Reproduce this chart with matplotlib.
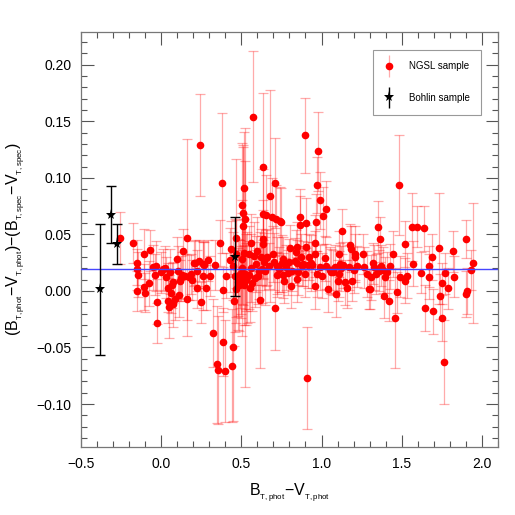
import matplotlib
matplotlib.use("Agg")
import matplotlib.pyplot as plt
from matplotlib.ticker import MultipleLocator
from matplotlib.legend_handler import HandlerErrorbar

plt.rcParams["font.family"] = ["Liberation Sans", "DejaVu Sans"]
plt.rcParams["mathtext.fontset"] = "custom"
plt.rcParams["mathtext.rm"] = "Liberation Sans"
plt.rcParams["mathtext.it"] = "Liberation Sans"

# NGSL sample: colour, colour difference, error
ngsl_x = [-0.259, -0.172, -0.149, -0.153, -0.145, -0.147, -0.106, -0.106, -0.101, -0.068,
          -0.075, -0.048, -0.031, -0.039, -0.025, -0.025, 0.000, 0.025, 0.031, 0.041,
          0.043, 0.052, 0.058, 0.064, 0.072, 0.077, 0.087, 0.099, 0.108, 0.114,
          0.118, 0.130, 0.139, 0.147, 0.161, 0.161, 0.176, 0.193, 0.207, 0.222,
          0.222, 0.238, 0.242, 0.248, 0.259, 0.263, 0.280, 0.290, 0.304, 0.323,
          0.337, 0.346, 0.356, 0.369, 0.379, 0.387, 0.389, 0.398, 0.404, 0.431,
          0.435, 0.445, 0.449, 0.451, 0.455, 0.466, 0.462, 0.470, 0.482, 0.497,
          0.507, 0.507, 0.513, 0.518, 0.513, 0.524, 0.503, 0.516, 0.524, 0.538,
          0.549, 0.559, 0.557, 0.573, 0.569, 0.580, 0.586, 0.600, 0.607, 0.617,
          0.625, 0.629, 0.638, 0.638, 0.638, 0.638, 0.644, 0.646, 0.652, 0.663,
          0.681, 0.689, 0.698, 0.710, 0.712, 0.714, 0.722, 0.725, 0.739, 0.747,
          0.754, 0.762, 0.768, 0.780, 0.797, 0.801, 0.807, 0.818, 0.832, 0.839,
          0.845, 0.845, 0.855, 0.865, 0.865, 0.870, 0.884, 0.894, 0.894, 0.901,
          0.905, 0.911, 0.917, 0.932, 0.942, 0.957, 0.959, 0.959, 0.963, 0.969,
          0.973, 0.979, 0.990, 1.000, 1.008, 1.021, 1.025, 1.031, 1.041, 1.050,
          1.070, 1.087, 1.093, 1.101, 1.108, 1.112, 1.118, 1.130, 1.135, 1.149,
          1.159, 1.170, 1.176, 1.186, 1.190, 1.201, 1.207, 1.211, 1.222, 1.257,
          1.263, 1.284, 1.294, 1.304, 1.311, 1.319, 1.329, 1.340, 1.350, 1.356,
          1.366, 1.373, 1.381, 1.387, 1.398, 1.408, 1.418, 1.429, 1.445, 1.455,
          1.470, 1.480, 1.487, 1.518, 1.522, 1.532, 1.563, 1.569, 1.592, 1.621,
          1.636, 1.642, 1.667, 1.673, 1.691, 1.697, 1.735, 1.739, 1.749, 1.749,
          1.762, 1.770, 1.787, 1.822, 1.824, 1.901, 1.901, 1.909, 1.932, 1.946,
          0.478, 0.492, 0.515, 0.531, 0.545, 0.562, 0.590, 0.612, 0.652, 0.675,
          0.705, 0.735, 0.760, 0.790, 0.850, 0.880, 0.920, 0.990, 1.060, 1.120,
          0.015, 0.070, 0.125, 0.185, 0.210, 0.270, 0.470, 0.485, 0.500, 0.530]
ngsl_y = [0.0470, 0.0424, 0.0250, 0.0190, 0.0145, 0.0000, 0.0035, 0.0324, -0.0015, 0.0360,
          0.0068, 0.0210, 0.0218, 0.0144, -0.0094, -0.0283, 0.0165, 0.0200, 0.0120, 0.0030,
          -0.0085, -0.0138, 0.0170, -0.0015, -0.0115, 0.0077, -0.0074, 0.0280, 0.0180, -0.0032,
          0.0090, 0.0140, 0.0350, 0.0130, 0.0470, -0.0074, 0.0120, 0.0097, 0.0245, 0.0180,
          0.0027, 0.0268, 0.1290, -0.0100, 0.0240, 0.0133, 0.0030, 0.0270, 0.0133, -0.0374,
          0.0230, -0.0650, -0.0700, 0.0424, 0.0955, -0.0450, 0.0012, -0.0710, 0.0136, 0.0274,
          0.0370, -0.0660, -0.0500, 0.0218, -0.0085, 0.0470, 0.0136, 0.0018, 0.0056, 0.0100,
          0.0760, 0.0286, 0.0687, 0.0907, 0.0577, 0.0640, 0.0200, 0.0336, 0.0150, 0.0120,
          0.0327, 0.0427, 0.0027, 0.1540, 0.0074, 0.0310, 0.0110, 0.0350, 0.0133, -0.0080,
          0.0300, 0.0190, 0.1100, 0.0680, 0.0457, 0.0415, 0.0260, 0.0174, 0.0675, 0.0300,
          0.0840, 0.0650, 0.0327, 0.0955, -0.0153, 0.0636, 0.0224, 0.0144, 0.0620, 0.0607,
          0.0245, 0.0138, 0.0091, 0.0210, 0.0260, 0.0380, 0.0047, 0.0180, 0.0268, 0.0340,
          0.0386, 0.0103, 0.0165, 0.0650, 0.0586, 0.0300, 0.0240, 0.1376, 0.0150, 0.0386,
          0.0600, -0.0770, 0.0230, 0.0247, 0.0230, 0.0040, 0.0327, 0.0420, 0.0607, 0.0937,
          0.0150, 0.1235, 0.0800, 0.0136, 0.0666, 0.0290, 0.0218, 0.0725, 0.0018, 0.0186,
          0.0165, 0.0210, -0.0027, 0.0091, 0.0150, 0.0327, 0.0240, 0.0527, 0.0230, 0.0077,
          0.0027, 0.0210, 0.0410, 0.0370, 0.0091, 0.0186, 0.0327, 0.0300, 0.0218, 0.0327,
          0.0210, 0.0150, 0.0018, 0.0018, 0.0120, 0.0245, 0.0210, 0.0150, 0.0569, 0.0180,
          0.0457, 0.0224, 0.0186, -0.0041, 0.0120, 0.0165, -0.0085, 0.0218, 0.0327, -0.0240,
          -0.0012, 0.0937, 0.0127, 0.0091, 0.0415, 0.0136, 0.0569, 0.0240, 0.0569, 0.0160,
          0.0554, -0.0150, 0.0218, 0.0127, 0.0300, -0.0180, 0.0377, -0.0047, 0.0068, -0.0240,
          -0.0630, 0.0156, 0.0024, 0.0350, 0.0127, 0.0457, -0.0027, 0.0000, 0.0186, 0.0245,
          0.0080, 0.0150, 0.0050, 0.0100, 0.0140, 0.0200, 0.0240, 0.0180, 0.0290, 0.0220,
          0.0260, 0.0190, 0.0280, 0.0160, 0.0250, 0.0220, 0.0300, 0.0210, 0.0170, 0.0200,
          0.0190, 0.0050, 0.0110, 0.0150, 0.0250, 0.0230, 0.0330, 0.0050, 0.0060, 0.0120]
ngsl_err = [0.023, 0.018, 0.020, 0.018, 0.020, 0.018, 0.020, 0.022, 0.017, 0.018,
            0.020, 0.020, 0.022, 0.018, 0.020, 0.018, 0.018, 0.020, 0.018, 0.022,
            0.020, 0.028, 0.020, 0.018, 0.020, 0.018, 0.018, 0.020, 0.022, 0.020,
            0.018, 0.020, 0.020, 0.020, 0.087, 0.018, 0.020, 0.018, 0.020, 0.018,
            0.018, 0.018, 0.045, 0.018, 0.020, 0.030, 0.020, 0.018, 0.018, 0.030,
            0.022, 0.052, 0.048, 0.020, 0.062, 0.030, 0.020, 0.045, 0.020, 0.028,
            0.025, 0.050, 0.065, 0.030, 0.040, 0.070, 0.050, 0.030, 0.040, 0.030,
            0.055, 0.040, 0.060, 0.050, 0.070, 0.080, 0.060, 0.030, 0.100, 0.040,
            0.025, 0.025, 0.030, 0.058, 0.025, 0.030, 0.025, 0.030, 0.025, 0.060,
            0.025, 0.030, 0.065, 0.040, 0.035, 0.030, 0.025, 0.030, 0.035, 0.025,
            0.094, 0.035, 0.025, 0.040, 0.037, 0.030, 0.025, 0.020, 0.030, 0.030,
            0.025, 0.020, 0.020, 0.020, 0.020, 0.020, 0.020, 0.018, 0.020, 0.020,
            0.022, 0.020, 0.020, 0.025, 0.025, 0.020, 0.020, 0.033, 0.020, 0.020,
            0.022, 0.045, 0.020, 0.025, 0.020, 0.020, 0.020, 0.025, 0.025, 0.025,
            0.020, 0.035, 0.025, 0.020, 0.025, 0.020, 0.020, 0.025, 0.020, 0.020,
            0.020, 0.020, 0.020, 0.018, 0.020, 0.020, 0.018, 0.020, 0.020, 0.020,
            0.018, 0.020, 0.018, 0.020, 0.018, 0.020, 0.025, 0.020, 0.018, 0.018,
            0.018, 0.020, 0.018, 0.018, 0.020, 0.018, 0.020, 0.018, 0.023, 0.018,
            0.020, 0.018, 0.020, 0.020, 0.018, 0.018, 0.018, 0.020, 0.020, 0.044,
            0.018, 0.044, 0.018, 0.020, 0.020, 0.020, 0.030, 0.020, 0.018, 0.018,
            0.020, 0.020, 0.018, 0.020, 0.020, 0.020, 0.049, 0.020, 0.018, 0.020,
            0.037, 0.018, 0.018, 0.018, 0.018, 0.017, 0.020, 0.020, 0.018, 0.053,
            0.030, 0.030, 0.035, 0.040, 0.030, 0.030, 0.025, 0.025, 0.025, 0.020,
            0.025, 0.020, 0.020, 0.020, 0.020, 0.018, 0.020, 0.020, 0.020, 0.020,
            0.018, 0.020, 0.020, 0.018, 0.020, 0.020, 0.030, 0.040, 0.030, 0.030]

# Bohlin sample
bohlin_x = [-0.383, -0.313, -0.273, 0.462]
bohlin_y = [0.0015, 0.0675, 0.0415, 0.0303]
bohlin_err = [0.058, 0.025, 0.0175, 0.035]

mean_offset = 0.0197

pink = (1, 0, 0, 0.33)

fig = plt.figure(figsize=(5.15, 5.15), dpi=100)
ax = fig.add_axes([0.157, 0.132, 0.81, 0.806])

ax.errorbar(ngsl_x, ngsl_y, yerr=ngsl_err, fmt="none", ecolor=pink,
            elinewidth=0.9, capsize=3.5, capthick=0.9, zorder=2)
ax.plot(ngsl_x, ngsl_y, "o", color="red", markersize=5.5, markeredgewidth=0, zorder=3)
ax.axhline(mean_offset, color="#4646ff", linewidth=1.0, zorder=4)
ax.errorbar(bohlin_x, bohlin_y, yerr=bohlin_err, fmt="none", ecolor="black",
            elinewidth=1.0, capsize=3.5, capthick=1.0, zorder=5)
ax.plot(bohlin_x, bohlin_y, "*", color="black", markersize=8, markeredgewidth=0, zorder=6)

# proxy handles for the legend (placed outside the visible range)
h1 = ax.errorbar([-9], [0], yerr=[0.01], fmt="o", color="red", ecolor=pink,
                 markersize=5.5, markeredgewidth=0, elinewidth=0.9, capsize=3, capthick=0.9)
h2 = ax.errorbar([-9], [0], yerr=[0.01], fmt="*", color="black", markersize=8,
                 markeredgewidth=0, elinewidth=1.0, capsize=3, capthick=1.0)
leg = ax.legend([h1, h2], ["NGSL sample", "Bohlin sample"], loc="upper left",
                bbox_to_anchor=(0.700, 0.957), borderaxespad=0, fontsize=7,
                fancybox=False, edgecolor="#999999", framealpha=1,
                borderpad=1.2, labelspacing=2.2, handlelength=1.0, handletextpad=1.5,
                handler_map={type(h1): HandlerErrorbar(xerr_size=0.5, yerr_size=1.1)})
leg.get_frame().set_linewidth(0.8)

ax.set_xlim(-0.5, 2.1)
ax.set_ylim(-0.138, 0.229)
ax.xaxis.set_major_locator(MultipleLocator(0.5))
ax.xaxis.set_minor_locator(MultipleLocator(0.1))
ax.yaxis.set_major_locator(MultipleLocator(0.05))
ax.yaxis.set_minor_locator(MultipleLocator(0.01))
ax.xaxis.set_major_formatter(plt.FuncFormatter(lambda v, p: ("%.1f" % v).replace("-", "\u2212")))
ax.yaxis.set_major_formatter(plt.FuncFormatter(lambda v, p: ("%.2f" % v).replace("-", "\u2212")))
ax.tick_params(which="both", direction="in", top=True, right=True, color="#555555",
               labelsize=10, pad=7)
ax.tick_params(which="major", length=9, width=0.8)
ax.tick_params(which="minor", length=4.5, width=0.8)
for s in ax.spines.values():
    s.set_color("#777777")
    s.set_linewidth(0.9)

sub_phot = "$_{{}_{\\mathrm{T,phot}}}$"
sub_spec = "$_{{}_{\\mathrm{T,spec}}}$"
ax.set_xlabel("B" + sub_phot + "\u2212V" + sub_phot, fontsize=11.5, labelpad=8)
ax.set_ylabel("(B" + sub_phot + "\u2212V" + sub_phot + ")\u2212(B" + sub_spec + "\u2212V" + sub_spec + ")",
              fontsize=11.5, labelpad=6)

plt.savefig("out.png", dpi=100)
